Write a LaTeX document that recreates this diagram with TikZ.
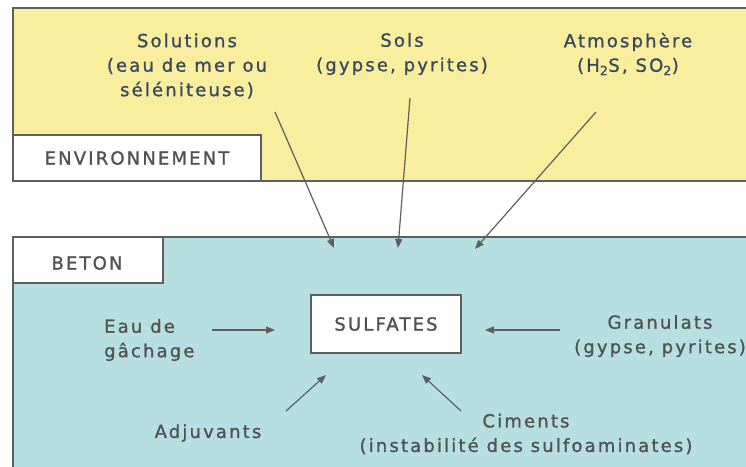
\documentclass[tikz,border=0pt]{standalone}
\usepackage{fontspec}
\setmainfont[LetterSpace=12,FakeBold=1.2]{DejaVu Sans}
\usetikzlibrary{arrows.meta}
\definecolor{envyellow}{HTML}{F8EE9E}
\definecolor{betonblue}{HTML}{B7DEE0}
\definecolor{framegray}{HTML}{5E605F}
\definecolor{toptext}{HTML}{3A4A5C}
\definecolor{bottext}{HTML}{505252}
\tikzset{
  frame/.style={draw=framegray, line width=2pt},
  lbl/.style={font=\fontsize{18}{24.5}\selectfont, inner sep=0pt, align=center},
  toplbl/.style={lbl, text=toptext},
  botlbl/.style={lbl, text=bottext},
  arr/.style={draw=framegray, line width=1.2pt, -{Triangle[length=9pt,width=7pt]}},
}
\begin{document}
\begin{tikzpicture}[x=1pt,y=-1pt]
\useasboundingbox (0,0) rectangle (746,466);
\clip (0,0) rectangle (746,466);
\fill[white] (0,0) rectangle (746,466);
% environment
\path[frame, fill=envyellow] (13,8) rectangle (760,181);
\path[frame, fill=white] (13,135) rectangle (261,181);
\node[botlbl] (envt) at (137,158) {ENVIRONNEMENT};
% beton
\path[frame, fill=betonblue] (13,237) rectangle (760,480);
\path[frame, fill=white] (13,237) rectangle (163,283);
\node[botlbl] (bett) at (87,263) {BETON};
% sulfates
\node[frame, fill=white, minimum width=150pt, minimum height=58pt, lbl, text=bottext] (sulf) at (386,324) {SULFATES};
% top labels
\node[toplbl] (sol) at (187,66) {Solutions\\(eau de mer ou\\séléniteuse)};
\node[toplbl] (sols) at (402,54) {Sols\\(gypse, pyrites)};
\node[toplbl] (atm) at (628,54) {Atmosphère\\(H\textsubscript{2}S, SO\textsubscript{2})};
% bottom labels
\node[botlbl, align=left, anchor=west] (eau) at (104,340) {Eau de\\gâchage};
\node[botlbl] (gran) at (660,336) {Granulats\\(gypse, pyrites)};
\node[botlbl] (adj) at (208,433) {Adjuvants};
\node[botlbl] (cim) at (526,434) {Ciments\\(instabilité des sulfoaminates)};
% arrow endpoints
\coordinate (solA) at (275,112); \coordinate (solB) at (334,248);
\coordinate (solsA) at (410,98); \coordinate (solsB) at (398,248);
\coordinate (atmA) at (596,112); \coordinate (atmB) at (475,249);
\coordinate (eauA) at (212,330); \coordinate (eauB) at (275,330);
\coordinate (granA) at (560,330); \coordinate (granB) at (485,330);
\coordinate (adjA) at (286,411); \coordinate (adjB) at (326,375);
\coordinate (cimA) at (461,411); \coordinate (cimB) at (422,375);
\draw[arr] (solA) -- (solB);
\draw[arr] (solsA) -- (solsB);
\draw[arr] (atmA) -- (atmB);
\draw[arr] (eauA) -- (eauB);
\draw[arr] (granA) -- (granB);
\draw[arr] (adjA) -- (adjB);
\draw[arr] (cimA) -- (cimB);
\end{tikzpicture}
\end{document}
